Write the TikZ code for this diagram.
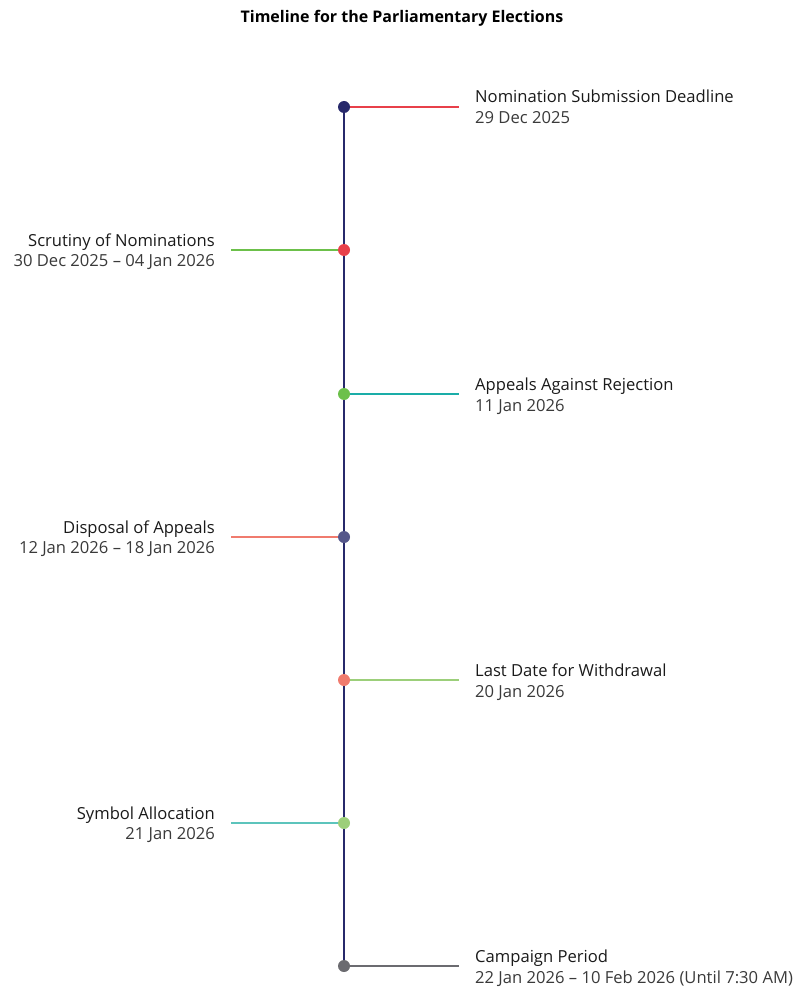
\documentclass[tikz,border=0pt]{standalone}
\usepackage{fontspec}
\setmainfont{Open Sans}
\definecolor{navy}{HTML}{27296B}
\definecolor{cred}{HTML}{E8404A}
\definecolor{cgreen}{HTML}{6CC04A}
\definecolor{cteal}{HTML}{1AADA8}
\definecolor{cslate}{HTML}{55578A}
\definecolor{csalmon}{HTML}{F07B6E}
\definecolor{clgreen}{HTML}{9CCF7A}
\definecolor{clteal}{HTML}{5CC4BC}
\definecolor{cgray}{HTML}{6B6B70}
\definecolor{txt}{HTML}{1A1A1A}
\definecolor{txt2}{HTML}{3A3A3A}
\begin{document}
\begin{tikzpicture}[x=1pt,y=-1pt,
  dot/.style={circle,fill=#1,inner sep=0pt,minimum size=12pt},
  branch/.style={draw=#1,line width=2.4pt},
  ttl/.style={font=\fontsize{16.6}{19}\selectfont,text=txt,inner sep=0pt},
  dte/.style={font=\fontsize{16.6}{19}\selectfont,text=txt2,inner sep=0pt}]
\useasboundingbox (0,0) rectangle (796,987);
\node[font=\bfseries\fontsize{16}{19}\selectfont,inner sep=0pt,anchor=base] (title) at (402,23) {Timeline for the Parliamentary Elections};
% spine
\coordinate (top) at (344,107);
\coordinate (bot) at (344,966);
\draw[navy,line width=2.2pt] (top) -- (bot);
\coordinate (e1) at (459,107);
\coordinate (e2) at (231,250);
\coordinate (e3) at (459,394);
\coordinate (e4) at (231,537);
\coordinate (e5) at (459,680);
\coordinate (e6) at (231,823);
\coordinate (e7) at (459,966);
\coordinate (p1) at (344,107);
\coordinate (p2) at (344,250);
\coordinate (p3) at (344,394);
\coordinate (p4) at (344,537);
\coordinate (p5) at (344,680);
\coordinate (p6) at (344,823);
\coordinate (p7) at (344,966);
\draw[branch=cred] (p1) -- (e1);
\draw[branch=cgreen] (p2) -- (e2);
\draw[branch=cteal] (p3) -- (e3);
\draw[branch=csalmon] (p4) -- (e4);
\draw[branch=clgreen] (p5) -- (e5);
\draw[branch=clteal] (p6) -- (e6);
\draw[branch=cgray] (p7) -- (e7);
\node[dot=navy] (d1) at (p1) {};
\node[dot=cred] (d2) at (p2) {};
\node[dot=cgreen] (d3) at (p3) {};
\node[dot=cslate] (d4) at (p4) {};
\node[dot=csalmon] (d5) at (p5) {};
\node[dot=clgreen] (d6) at (p6) {};
\node[dot=cgray] (d7) at (p7) {};
% labels
\node[ttl,anchor=base west] (l1) at (475,103) {Nomination Submission Deadline};
\node[dte,anchor=base west] (t1) at (475,124) {29 Dec 2025};
\node[ttl,anchor=base east] (l2) at (215,246) {Scrutiny of Nominations};
\node[dte,anchor=base east] (t2) at (215,266) {30 Dec 2025 – 04 Jan 2026};
\node[ttl,anchor=base west] (l3) at (475,390) {Appeals Against Rejection};
\node[dte,anchor=base west] (t3) at (475,411) {11 Jan 2026};
\node[ttl,anchor=base east] (l4) at (215,533) {Disposal of Appeals};
\node[dte,anchor=base east] (t4) at (215,553) {12 Jan 2026 – 18 Jan 2026};
\node[ttl,anchor=base west] (l5) at (475,676) {Last Date for Withdrawal};
\node[dte,anchor=base west] (t5) at (475,697) {20 Jan 2026};
\node[ttl,anchor=base east] (l6) at (215,819) {Symbol Allocation};
\node[dte,anchor=base east] (t6) at (215,839) {21 Jan 2026};
\node[ttl,anchor=base west] (l7) at (475,962) {Campaign Period};
\node[dte,anchor=base west] (t7) at (475,983) {22 Jan 2026 – 10 Feb 2026 (Until 7:30 AM)};
\end{tikzpicture}
\end{document}
